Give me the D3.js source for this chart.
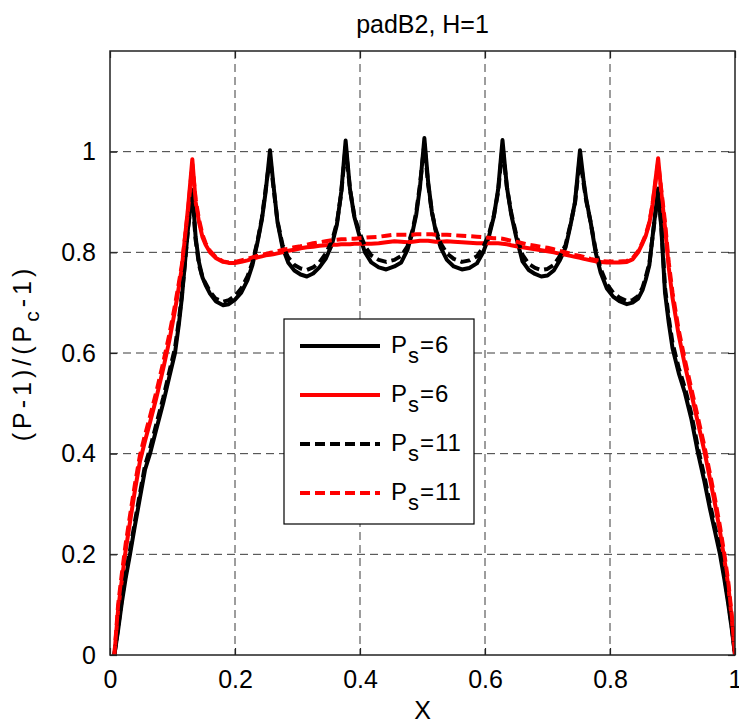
<!DOCTYPE html>
<html>
<head>
<meta charset="utf-8">
<script src="https://cdn.jsdelivr.net/npm/d3@7"></script>
<style>
  html, body { margin: 0; padding: 0; background: #fff; }
  svg { display: block; font-family: "Liberation Sans", Arial, sans-serif; }
</style>
</head>
<body>
<svg id="chart" width="739" height="723"></svg>
<script>
const title = "padB2, H=1";
const xTicks = [0, 0.2, 0.4, 0.6, 0.8, 1];
const yTicks = [0, 0.2, 0.4, 0.6, 0.8, 1];
const xTickLabels = ["0", "0.2", "0.4", "0.6", "0.8", "1"];
const yTickLabels = ["0", "0.2", "0.4", "0.6", "0.8", "1"];

const xValues = [
  0.007, 0.013, 0.019, 0.025, 0.032, 0.04, 0.048, 0.056, 0.064, 0.074, 0.085, 0.095, 0.104, 0.11, 0.115, 0.12, 0.125, 0.1317,
  0.137, 0.1424, 0.148, 0.153, 0.16, 0.169, 0.181, 0.19, 0.2, 0.21, 0.22, 0.228, 0.236, 0.243, 0.249, 0.256,
  0.261, 0.268, 0.276, 0.285, 0.295, 0.305, 0.315, 0.325, 0.335, 0.345, 0.355, 0.363, 0.37, 0.377,
  0.384, 0.391, 0.399, 0.408, 0.418, 0.43, 0.442, 0.455, 0.466, 0.476, 0.484, 0.49, 0.496, 0.503,
  0.509, 0.515, 0.521, 0.529, 0.539, 0.55, 0.563, 0.575, 0.587, 0.597, 0.606, 0.614, 0.621, 0.628,
  0.635, 0.642, 0.65, 0.66, 0.67, 0.68, 0.69, 0.7, 0.71, 0.72, 0.729, 0.737, 0.744, 0.752,
  0.758, 0.762, 0.769, 0.777, 0.785, 0.795, 0.805, 0.815, 0.827, 0.836, 0.845, 0.852, 0.857, 0.863, 0.868, 0.877,
  0.882, 0.888, 0.894, 0.9, 0.91, 0.92, 0.93, 0.941, 0.951, 0.96, 0.968, 0.976, 0.983, 0.989, 0.995, 1.0
];

const blackPs6 = [
  0, 0.05, 0.105, 0.152, 0.2, 0.258, 0.313, 0.368, 0.4, 0.448, 0.5, 0.553, 0.6, 0.655, 0.71, 0.78, 0.85, 0.924,
  0.83, 0.78, 0.75, 0.735, 0.718, 0.703, 0.695, 0.697, 0.706, 0.72, 0.745, 0.775, 0.82, 0.865, 0.92, 1.003,
  0.94, 0.86, 0.81, 0.78, 0.764, 0.756, 0.752, 0.758, 0.77, 0.787, 0.815, 0.855, 0.92, 1.022,
  0.925, 0.87, 0.833, 0.8, 0.78, 0.77, 0.766, 0.772, 0.78, 0.805, 0.84, 0.875, 0.93, 1.027,
  0.94, 0.88, 0.843, 0.81, 0.785, 0.772, 0.766, 0.769, 0.778, 0.8, 0.83, 0.87, 0.925, 1.023,
  0.93, 0.875, 0.83, 0.782, 0.765, 0.757, 0.752, 0.754, 0.764, 0.785, 0.81, 0.855, 0.9, 1.003,
  0.94, 0.905, 0.86, 0.8, 0.76, 0.728, 0.712, 0.703, 0.697, 0.7, 0.708, 0.725, 0.745, 0.775, 0.83, 0.927,
  0.85, 0.72, 0.66, 0.61, 0.56, 0.52, 0.47, 0.4, 0.345, 0.29, 0.245, 0.2, 0.15, 0.103, 0.05, 0
];

const redPs6 = [
  0, 0.09, 0.15, 0.207, 0.264, 0.328, 0.385, 0.425, 0.462, 0.51, 0.568, 0.625, 0.685, 0.73, 0.77, 0.83, 0.89, 0.985,
  0.9, 0.86, 0.83, 0.815, 0.8, 0.789, 0.781, 0.779, 0.779, 0.781, 0.784, 0.787, 0.79, 0.792, 0.794, 0.795,
  0.796, 0.798, 0.8, 0.803, 0.805, 0.808, 0.81, 0.811, 0.813, 0.814, 0.815, 0.815, 0.816, 0.816,
  0.816, 0.817, 0.817, 0.817, 0.817, 0.818, 0.82, 0.822, 0.821, 0.82, 0.821, 0.822, 0.823, 0.823,
  0.823, 0.822, 0.821, 0.821, 0.822, 0.821, 0.82, 0.819, 0.818, 0.818, 0.818, 0.818, 0.818, 0.817,
  0.816, 0.814, 0.812, 0.81, 0.808, 0.806, 0.804, 0.802, 0.8, 0.797, 0.795, 0.793, 0.791, 0.789,
  0.787, 0.786, 0.784, 0.782, 0.781, 0.78, 0.78, 0.78, 0.781, 0.786, 0.8, 0.818, 0.832, 0.858, 0.895, 0.987,
  0.92, 0.85, 0.77, 0.71, 0.635, 0.575, 0.52, 0.46, 0.405, 0.35, 0.3, 0.245, 0.19, 0.14, 0.07, 0
];

const blackPs11 = [
  0, 0.055, 0.112, 0.16, 0.208, 0.266, 0.322, 0.376, 0.41, 0.458, 0.51, 0.563, 0.61, 0.663, 0.716, 0.78, 0.85, 0.915,
  0.825, 0.775, 0.75, 0.738, 0.722, 0.708, 0.702, 0.705, 0.713, 0.728, 0.752, 0.78, 0.822, 0.868, 0.925, 0.99,
  0.935, 0.862, 0.815, 0.79, 0.775, 0.768, 0.765, 0.77, 0.78, 0.797, 0.822, 0.858, 0.918, 1.01,
  0.925, 0.872, 0.84, 0.812, 0.794, 0.785, 0.781, 0.785, 0.793, 0.812, 0.843, 0.88, 0.935, 1.015,
  0.935, 0.88, 0.846, 0.818, 0.798, 0.787, 0.781, 0.784, 0.792, 0.81, 0.835, 0.872, 0.92, 1.01,
  0.93, 0.878, 0.835, 0.795, 0.777, 0.769, 0.765, 0.767, 0.775, 0.793, 0.815, 0.857, 0.898, 0.99,
  0.935, 0.902, 0.86, 0.805, 0.767, 0.737, 0.72, 0.71, 0.703, 0.705, 0.713, 0.73, 0.75, 0.778, 0.83, 0.918,
  0.855, 0.73, 0.67, 0.62, 0.57, 0.53, 0.48, 0.41, 0.355, 0.3, 0.254, 0.209, 0.158, 0.11, 0.055, 0
];

const redPs11 = [
  0, 0.1, 0.162, 0.22, 0.277, 0.34, 0.397, 0.437, 0.474, 0.522, 0.58, 0.637, 0.695, 0.738, 0.775, 0.83, 0.885, 0.975,
  0.905, 0.865, 0.835, 0.818, 0.803, 0.791, 0.782, 0.78, 0.781, 0.784, 0.787, 0.79, 0.793, 0.795, 0.797, 0.799,
  0.8, 0.802, 0.805, 0.807, 0.81, 0.812, 0.815, 0.818, 0.82, 0.822, 0.824, 0.825, 0.826, 0.826,
  0.827, 0.827, 0.828, 0.829, 0.83, 0.831, 0.833, 0.835, 0.835, 0.835, 0.835, 0.836, 0.836, 0.836,
  0.836, 0.836, 0.835, 0.835, 0.835, 0.834, 0.833, 0.832, 0.831, 0.83, 0.829, 0.828, 0.828, 0.827,
  0.825, 0.823, 0.821, 0.818, 0.815, 0.813, 0.811, 0.809, 0.806, 0.803, 0.8, 0.797, 0.795, 0.793,
  0.791, 0.789, 0.787, 0.785, 0.783, 0.782, 0.782, 0.782, 0.783, 0.788, 0.802, 0.82, 0.834, 0.86, 0.895, 0.978,
  0.925, 0.86, 0.78, 0.72, 0.645, 0.585, 0.53, 0.47, 0.415, 0.36, 0.31, 0.255, 0.2, 0.148, 0.077, 0
];

const seriesSub = ["6", "6", "11", "11"];
const seriesColors = ["#000000", "#ff0000", "#000000", "#ff0000"];
const seriesDash = [null, null, "10,5", "10,5"];
const seriesData = [blackPs6, redPs6, blackPs11, redPs11];

const svg = d3.select("#chart");
const pLeft = 110, pRight = 735, pTop = 51, pBottom = 655;
const x = d3.scaleLinear().domain([0, 1]).range([pLeft, pRight]);
const y = d3.scaleLinear().domain([0, 1.2]).range([pBottom, pTop]);
const fontSize = 25;

// grid
const grid = svg.append("g");
xTicks.slice(1, -1).forEach(t => {
  grid.append("line").attr("x1", x(t)).attr("x2", x(t)).attr("y1", pTop).attr("y2", pBottom)
    .attr("stroke", "#3a3a3a").attr("stroke-width", 1).attr("stroke-dasharray", "8,5");
});
yTicks.slice(1).forEach(t => {
  grid.append("line").attr("x1", pLeft).attr("x2", pRight).attr("y1", y(t)).attr("y2", y(t))
    .attr("stroke", "#3a3a3a").attr("stroke-width", 1).attr("stroke-dasharray", "8,5");
});

// axes
const xAxisB = d3.axisBottom(x).tickValues(xTicks).tickFormat((d, i) => xTickLabels[i]).tickSizeInner(-7).tickSizeOuter(0).tickPadding(15);
const xAxisT = d3.axisTop(x).tickValues(xTicks).tickFormat("").tickSizeInner(-7).tickSizeOuter(0);
const yAxisL = d3.axisLeft(y).tickValues(yTicks).tickFormat((d, i) => yTickLabels[i]).tickSizeInner(-7).tickSizeOuter(0).tickPadding(14);
const yAxisR = d3.axisRight(y).tickValues(yTicks).tickFormat("").tickSizeInner(-7).tickSizeOuter(0);

function styleAxis(g) {
  g.select(".domain").remove();
  g.selectAll(".tick line").attr("stroke", "#222").attr("stroke-width", 1.2);
  g.selectAll(".tick text").attr("font-size", fontSize).attr("fill", "#000")
    .attr("font-family", "'Liberation Sans', Arial, sans-serif");
}
svg.append("g").attr("transform", `translate(0,${pBottom})`).call(xAxisB).call(styleAxis);
svg.append("g").attr("transform", `translate(0,${pTop})`).call(xAxisT).call(styleAxis);
svg.append("g").attr("transform", `translate(${pLeft},0)`).call(yAxisL).call(styleAxis);
svg.append("g").attr("transform", `translate(${pRight},0)`).call(yAxisR).call(styleAxis);

// clip
svg.append("clipPath").attr("id", "clip").append("rect")
  .attr("x", pLeft).attr("y", pTop).attr("width", pRight - pLeft).attr("height", pBottom - pTop);

const line = d3.line().x(d => x(d[0])).y(d => y(d[1]));
const plot = svg.append("g").attr("clip-path", "url(#clip)");
seriesData.forEach((vals, i) => {
  const pts = xValues.map((xv, j) => [xv, vals[j]]);
  plot.append("path").attr("d", line(pts)).attr("fill", "none")
    .attr("stroke", seriesColors[i]).attr("stroke-width", 4)
    .attr("stroke-linejoin", "round")
    .attr("stroke-dasharray", seriesDash[i]);
});

// box
svg.append("rect").attr("x", pLeft).attr("y", pTop).attr("width", pRight - pLeft).attr("height", pBottom - pTop)
  .attr("fill", "none").attr("stroke", "#222").attr("stroke-width", 1.5);

// title & labels
svg.append("text").attr("x", (pLeft + pRight) / 2).attr("y", 33).attr("text-anchor", "middle")
  .attr("font-size", fontSize).attr("fill", "#000").text(title);
svg.append("text").attr("x", (pLeft + pRight) / 2).attr("y", 719).attr("text-anchor", "middle")
  .attr("font-size", fontSize).attr("fill", "#000").text("X");
const yl = svg.append("text").attr("transform", `translate(31,${(pTop + pBottom) / 2}) rotate(-90)`)
  .attr("text-anchor", "middle").attr("font-size", fontSize).attr("letter-spacing", 4).attr("fill", "#000");
yl.append("tspan").text("(P-1)/(P");
yl.append("tspan").attr("dy", 8).attr("font-size", 21).text("c");
yl.append("tspan").attr("dy", -8).text("-1)");

// legend
const lg = svg.append("g");
lg.append("rect").attr("x", 284).attr("y", 319).attr("width", 190).attr("height", 205)
  .attr("fill", "#fff").attr("stroke", "#000").attr("stroke-width", 1.2);
seriesData.forEach((vals, i) => {
  const ly = 346 + i * 49;
  lg.append("line").attr("x1", 300).attr("x2", 380).attr("y1", ly).attr("y2", ly)
    .attr("stroke", seriesColors[i]).attr("stroke-width", 4).attr("stroke-dasharray", seriesDash[i]);
  const t = lg.append("text").attr("x", 391).attr("y", ly + 7).attr("font-size", 24)
    .attr("letter-spacing", 1).attr("fill", "#000");
  t.append("tspan").text("P");
  t.append("tspan").attr("dy", 10).attr("font-size", 22).text("s");
  t.append("tspan").attr("dy", -10).text("=" + seriesSub[i]);
});
</script>
</body>
</html>
